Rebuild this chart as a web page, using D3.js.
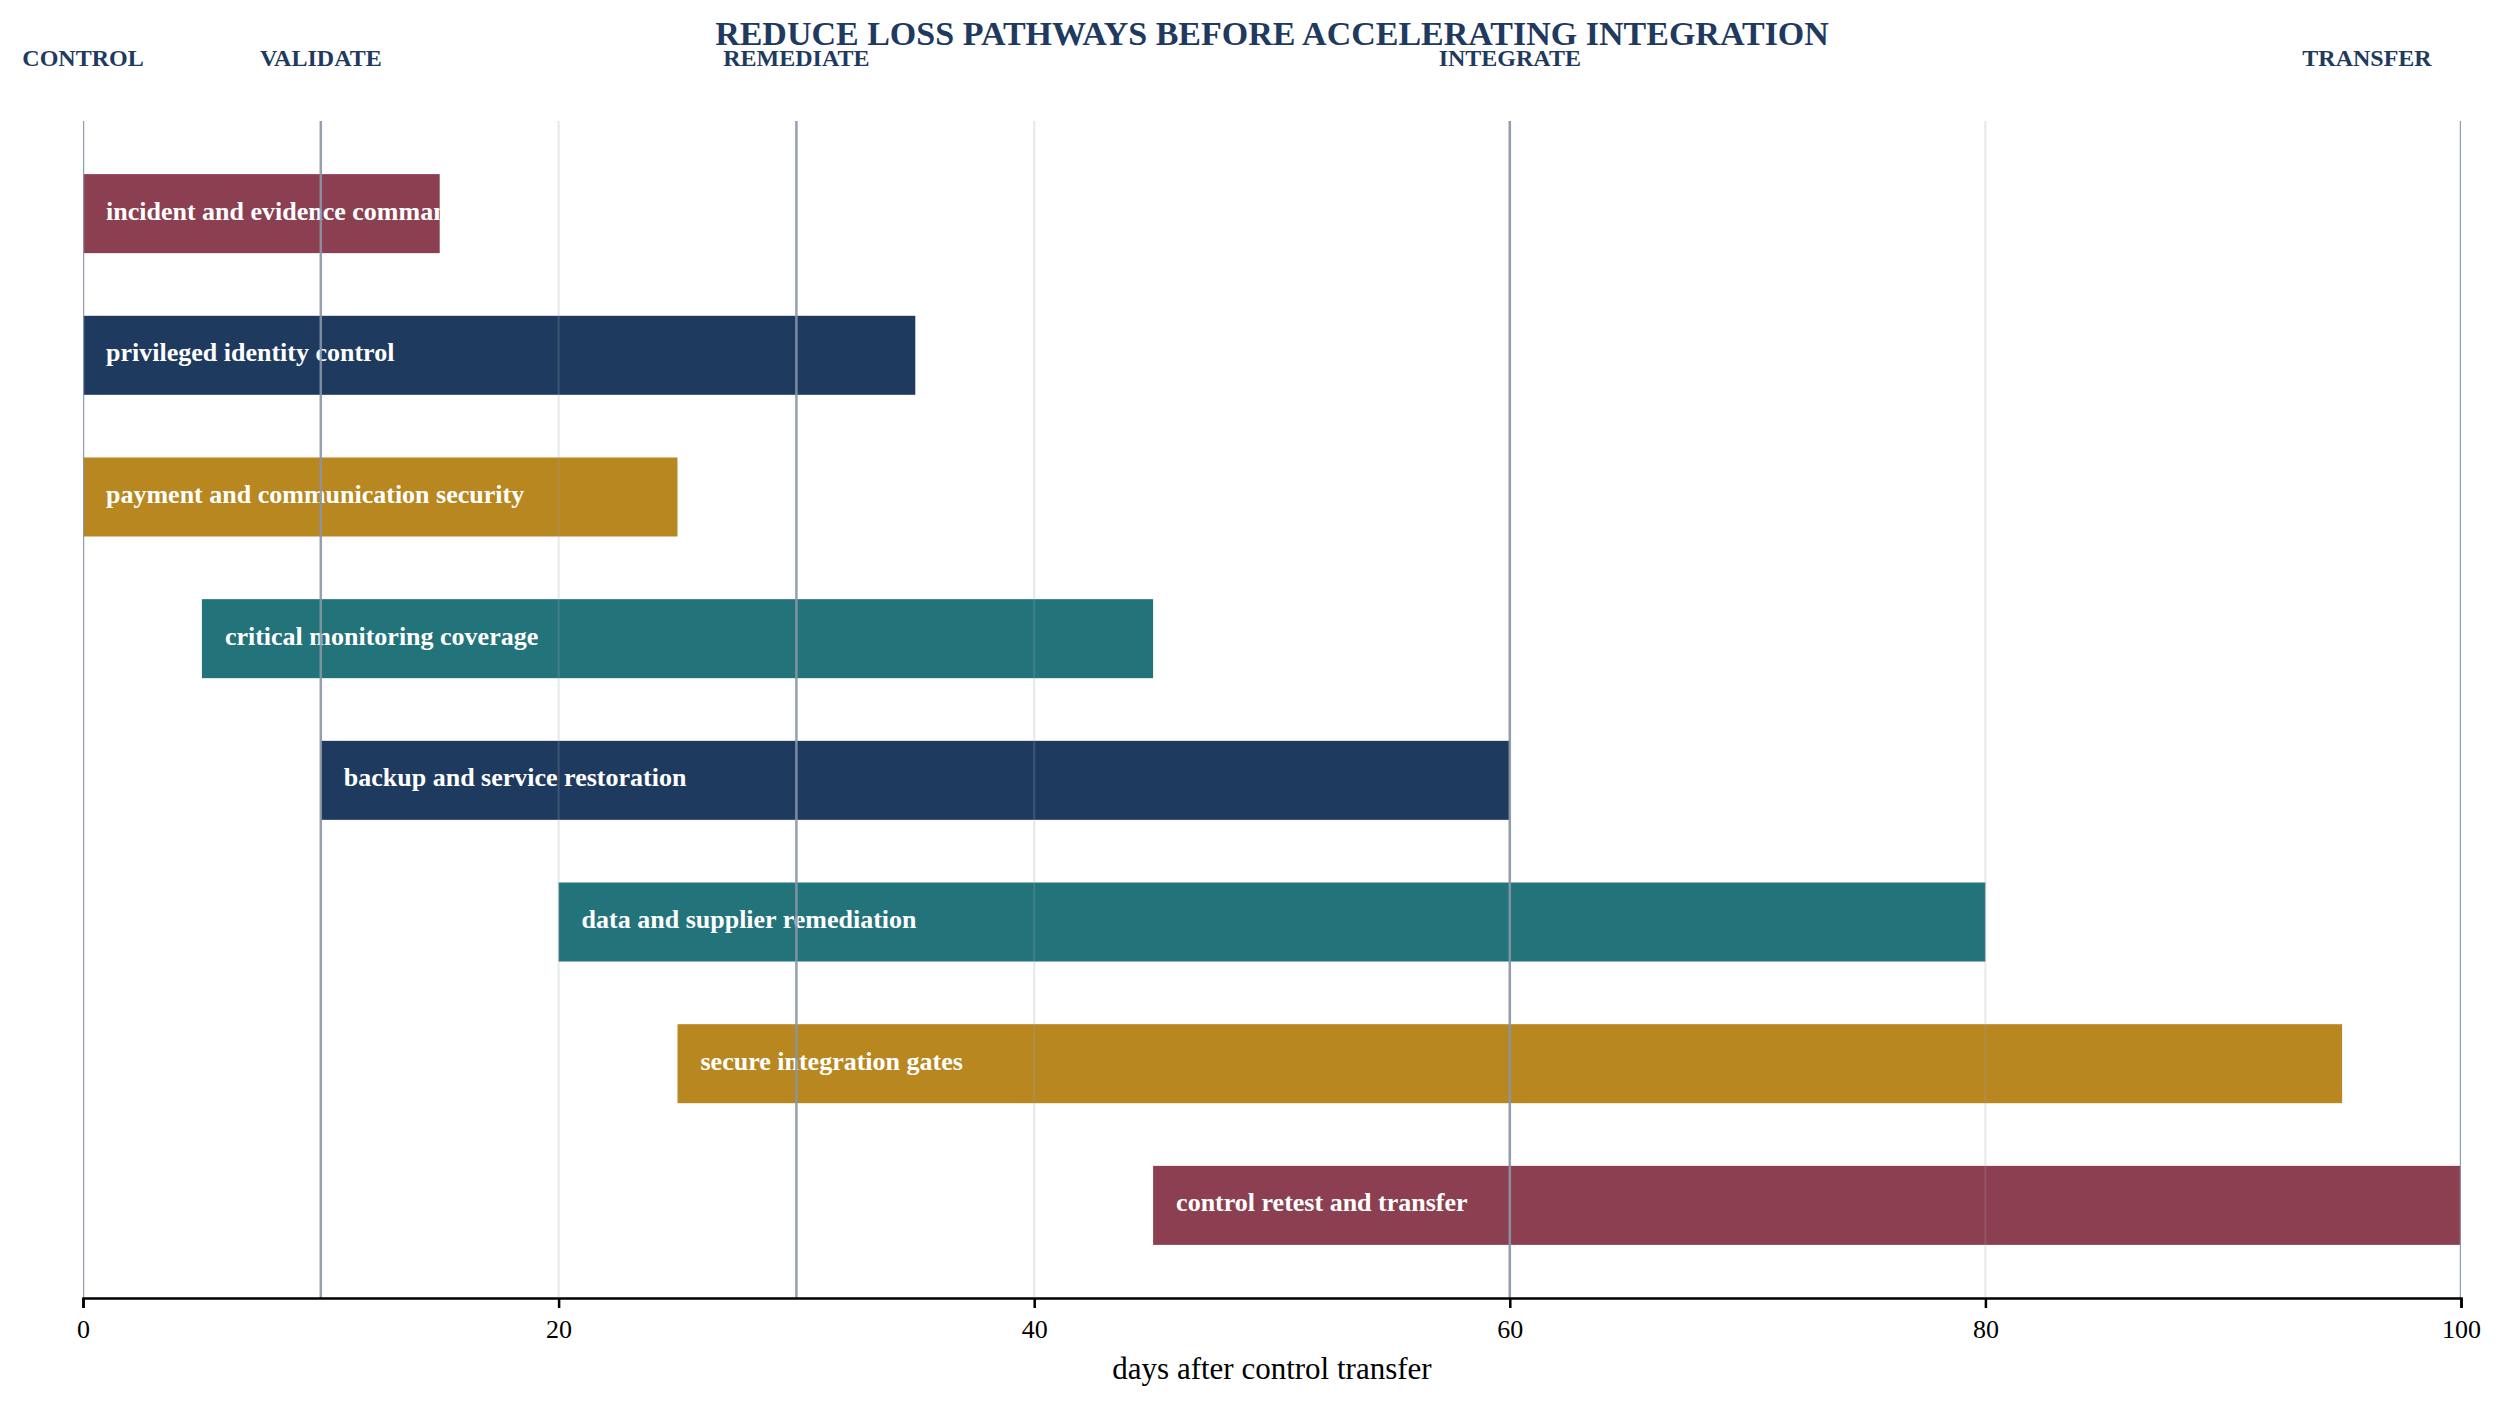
<!DOCTYPE html>
<html><head><meta charset="utf-8">
<script src="https://cdn.jsdelivr.net/npm/d3@7/dist/d3.min.js"></script>
<style>html,body{margin:0;padding:0;background:#fff}svg{display:block}</style>
</head><body>
<svg id="chart" width="2504" height="1408"></svg>
<script>
const titleText = "REDUCE LOSS PATHWAYS BEFORE ACCELERATING INTEGRATION";
const axisTitle = "days after control transfer";
const tasks = ["incident and evidence command","privileged identity control","payment and communication security","critical monitoring coverage","backup and service restoration","data and supplier remediation","secure integration gates","control retest and transfer"];
const startDays = [0,0,0,5,10,20,25,45];
const endDays = [15,35,25,45,60,80,95,100];
const taskColors = ["#8b3f51","#1f3a5f","#b88720","#23737a","#1f3a5f","#23737a","#b88720","#8b3f51"];
const phaseNames = ["CONTROL","VALIDATE","REMEDIATE","INTEGRATE","TRANSFER"];
const phaseDays = [0,10,30,60,100];
const xTicks = [0,20,40,60,80,100];

const W = 2504, H = 1408;
const margin = {top:121, right:43, bottom:110, left:83};
const iw = W - margin.left - margin.right, ih = H - margin.top - margin.bottom;
const FONT = "'Liberation Serif','Times New Roman',Times,serif";
const NAVY = "#1f3a5f";

const svg = d3.select("#chart");
const g = svg.append("g").attr("transform",`translate(${margin.left},${margin.top})`);
const x = d3.scaleLinear().domain([0,100]).range([0,iw]);
const y = d3.scaleBand().domain(tasks).range([0,ih]).paddingInner(0.4424).paddingOuter(0.375);

const data = tasks.map((t,i)=>({task:t,start:startDays[i],end:endDays[i],color:taskColors[i],i}));

const defs = svg.append("defs");
defs.append("clipPath").attr("id","plotclip").append("rect")
  .attr("x",0).attr("y",0).attr("width",iw).attr("height",ih);
data.forEach(d=>{
  defs.append("clipPath").attr("id","bc"+d.i).append("rect")
    .attr("x",x(d.start)).attr("y",y(d.task)).attr("width",x(d.end)-x(d.start)).attr("height",y.bandwidth());
});

// bars
g.append("g").selectAll("rect").data(data).join("rect")
  .attr("x",d=>x(d.start)).attr("y",d=>y(d.task))
  .attr("width",d=>x(d.end)-x(d.start)).attr("height",y.bandwidth())
  .attr("fill",d=>d.color);

// labels
g.append("g").selectAll("text").data(data).join("text")
  .attr("clip-path",d=>`url(#bc${d.i})`)
  .attr("x",d=>x(d.start)+23).attr("y",d=>y(d.task)+y.bandwidth()/2)
  .attr("dominant-baseline","middle")
  .attr("fill","#fff").attr("font-family",FONT).attr("font-weight","bold").attr("font-size",26)
  .text(d=>d.task);

// gridlines
const lines = g.append("g").attr("clip-path","url(#plotclip)");
lines.selectAll("line.grid").data(xTicks).join("line").attr("class","grid")
  .attr("x1",d=>x(d)).attr("x2",d=>x(d)).attr("y1",0).attr("y2",ih)
  .attr("stroke","#9aa3ae").attr("stroke-opacity",0.25).attr("stroke-width",2);
lines.selectAll("line.phase").data(phaseDays).join("line").attr("class","phase")
  .attr("x1",d=>x(d)).attr("x2",d=>x(d)).attr("y1",0).attr("y2",ih)
  .attr("stroke","#8896a6").attr("stroke-opacity",0.9).attr("stroke-width",2.5);

// phase labels
g.append("g").selectAll("text").data(phaseNames).join("text")
  .attr("x",(d,i)=>Math.min(x(phaseDays[i]), iw-94))
  .attr("y",66-margin.top)
  .attr("text-anchor","middle")
  .attr("fill",NAVY).attr("font-family",FONT).attr("font-weight","bold").attr("font-size",24)
  .text(d=>d);

// axis
const ax = g.append("g").attr("transform",`translate(0,${ih})`)
  .call(d3.axisBottom(x).tickValues(xTicks).tickFormat(d3.format("d")).tickSize(10).tickSizeOuter(10).tickPadding(12));
ax.select(".domain").attr("stroke","#000").attr("stroke-width",2.5);
ax.selectAll(".tick line").attr("stroke","#000").attr("stroke-width",2.5);
ax.selectAll(".tick text").attr("font-family",FONT).attr("font-size",26).attr("fill","#000");

// axis title
svg.append("text").attr("x",margin.left+iw/2).attr("y",1379)
  .attr("text-anchor","middle").attr("font-family",FONT).attr("font-size",31).attr("fill","#000")
  .text(axisTitle);

// title
svg.append("text").attr("x",margin.left+iw/2).attr("y",45)
  .attr("text-anchor","middle").attr("font-family",FONT).attr("font-weight","bold").attr("font-size",34).attr("fill",NAVY)
  .text(titleText);
</script>
</body></html>
